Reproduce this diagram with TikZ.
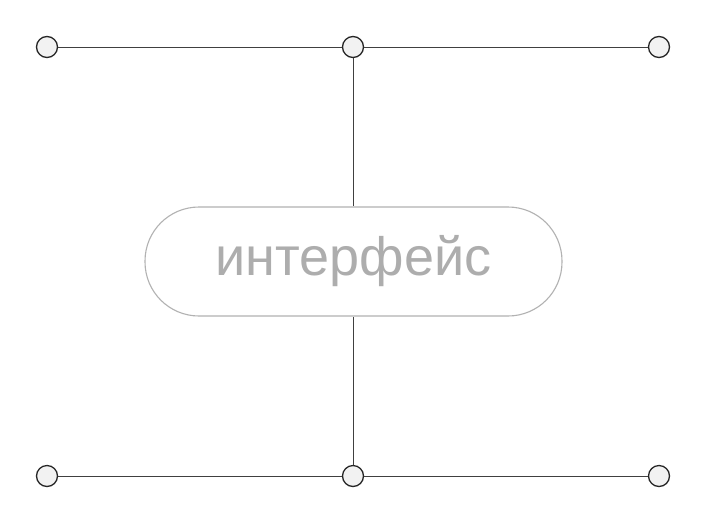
\documentclass[tikz,border=0pt]{standalone}
\usepackage{fontspec}
\setmainfont{Liberation Sans}
\begin{document}
\begin{tikzpicture}[x=1pt,y=-1pt,
  dot/.style={circle,draw=black!85,fill=black!5,line width=1.3pt,minimum size=21pt,inner sep=0pt},
  wire/.style={draw=black!75,line width=0.9pt},
  pill/.style={draw=black!30,line width=1.1pt,rounded corners=54pt,minimum width=417pt,minimum height=109pt,inner sep=0pt,text=black!32,font=\fontsize{54}{58}\selectfont}]
\useasboundingbox[fill=white] (0,0) rectangle (706,523);
\node[dot] (tl) at (47,47) {};
\node[dot] (tm) at (353,47) {};
\node[dot] (tr) at (659,47) {};
\node[dot] (bl) at (47,476) {};
\node[dot] (bm) at (353,476) {};
\node[dot] (br) at (659,476) {};
\node[pill] (ui) at (353.5,261.5) {интерфейс};
\draw[wire] (tl) -- (tm);
\draw[wire] (tm) -- (tr);
\draw[wire] (bl) -- (bm);
\draw[wire] (bm) -- (br);
\draw[wire] (tm) -- (tm |- ui.north);
\draw[wire] (bm) -- (bm |- ui.south);
\end{tikzpicture}
\end{document}
